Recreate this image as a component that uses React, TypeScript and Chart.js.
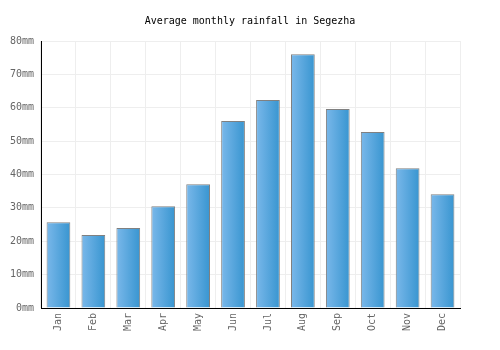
import React, { useEffect, useRef } from "react";
import { Chart, registerables } from "chart.js";

Chart.register(...registerables);

const months = ["Jan", "Feb", "Mar", "Apr", "May", "Jun", "Jul", "Aug", "Sep", "Oct", "Nov", "Dec"];
const rainfall = [25.7, 21.9, 24.0, 30.5, 37.1, 56.0, 62.3, 76.0, 59.6, 52.7, 41.9, 34.1];
const yTicksMax = 80;
const yStep = 10;
const titleText = "Average monthly rainfall in Segezha";

const FONT = "'DejaVu Sans Mono', monospace";

export default function App() {
  const ref = useRef<HTMLCanvasElement>(null);
  useEffect(() => {
    const canvas = ref.current!;
    const chart = new Chart(canvas, {
      type: "bar",
      data: {
        labels: months,
        datasets: [
          {
            data: rainfall,
            yAxisID: "y",
            backgroundColor: (ctx: any) => {
              const c = ctx.chart;
              const area = c.chartArea;
              const xs = c.scales.x;
              if (!area || !xs || ctx.dataIndex === undefined) return "#5aa8de";
              const cx = xs.getPixelForValue(ctx.dataIndex);
              const w = (area.right - area.left) / months.length * 0.68;
              const g = c.ctx.createLinearGradient(cx - w / 2, 0, cx + w / 2, 0);
              g.addColorStop(0, "#7ab8ea");
              g.addColorStop(1, "#3895d0");
              return g;
            },
            borderColor: "#808080",
            borderWidth: 1,
            categoryPercentage: 1,
            barPercentage: 0.68,
          },
        ],
      },
      options: {
        animation: false,
        responsive: false,
        maintainAspectRatio: false,
        layout: { padding: 0 },
        plugins: {
          legend: { display: false },
          tooltip: { enabled: false },
          title: {
            display: true,
            text: titleText,
            color: "#000",
            font: { family: FONT, size: 10, weight: "normal" },
            padding: { top: 15, bottom: 14 },
          },
        },
        scales: {
          x: {
            grid: { color: "#eeeeee", drawTicks: false, offset: true },
            border: { color: "#000", width: 1 },
            ticks: {
              color: "#666",
              font: { family: FONT, size: 10 },
              minRotation: 90,
              maxRotation: 90,
              padding: 5,
            },
            afterFit: (s: any) => {
              s.height = 42;
            },
          },
          y: {
            min: 0,
            max: yTicksMax,
            grid: { color: "#eeeeee", drawTicks: false },
            border: { color: "#000", width: 1 },
            ticks: {
              stepSize: yStep,
              color: "#666",
              font: { family: FONT, size: 10 },
              padding: 7,
              callback: (v: any) => v + "mm",
            },
            afterFit: (s: any) => {
              s.width = 41;
            },
          },
          yRight: {
            position: "right",
            min: 0,
            max: yTicksMax,
            grid: { display: false, drawTicks: false },
            border: { display: false },
            ticks: { display: false },
            afterFit: (s: any) => {
              s.width = 40;
            },
          },
        },
      },
    });
    return () => chart.destroy();
  }, []);
  return (
    <div style={{ position: "fixed", left: 0, top: 0, width: 500, height: 350, background: "#fff" }}>
      <canvas ref={ref} width={500} height={350} style={{ width: 500, height: 350, display: "block" }} />
    </div>
  );
}
